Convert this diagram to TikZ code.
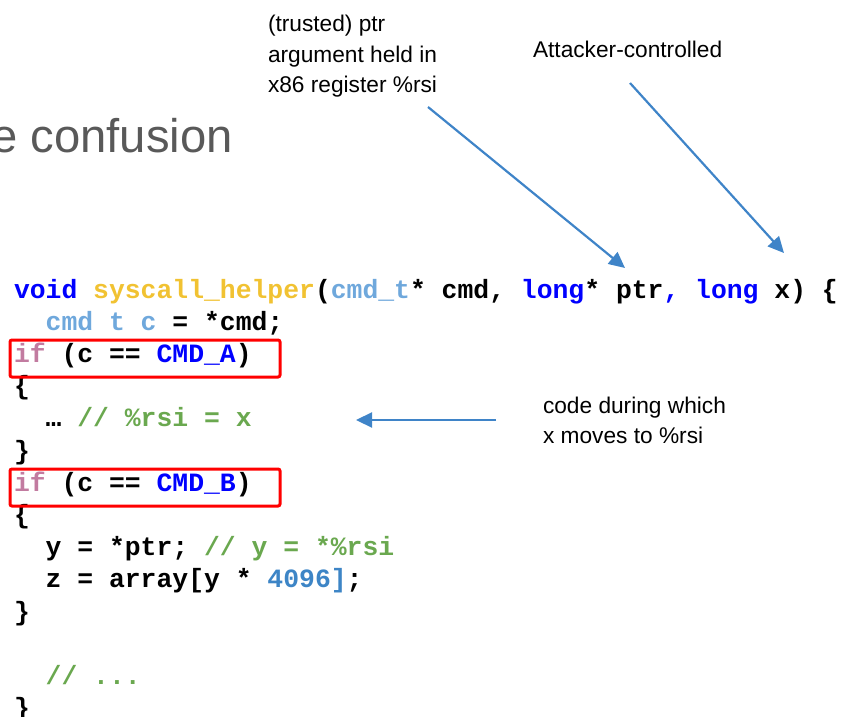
\documentclass[tikz,border=0pt]{standalone}
\usepackage{fontspec}
\setmainfont{Liberation Sans}
\setmonofont{Liberation Mono}
\usetikzlibrary{arrows.meta}

\definecolor{kwblue}{HTML}{0000FF}
\definecolor{fngold}{HTML}{F1C232}
\definecolor{tyblue}{HTML}{6FA8DC}
\definecolor{ifmauve}{HTML}{C27BA0}
\definecolor{cmgreen}{HTML}{6AA84F}
\definecolor{numblue}{HTML}{3D85C6}
\definecolor{arrowblue}{HTML}{3F84C8}
\definecolor{titlegray}{HTML}{595959}
\definecolor{boxred}{HTML}{FF0000}

\newcommand{\kw}[1]{\textcolor{kwblue}{#1}}
\newcommand{\fn}[1]{\textcolor{fngold}{#1}}
\newcommand{\ty}[1]{\textcolor{tyblue}{#1}}
\newcommand{\ifk}[1]{\textcolor{ifmauve}{#1}}
\newcommand{\cm}[1]{\textcolor{cmgreen}{#1}}
\newcommand{\num}[1]{\textcolor{numblue}{#1}}

\begin{document}
\begin{tikzpicture}[x=1pt,y=-1pt,
  codeline/.style={anchor=base west, inner sep=0pt, outer sep=0pt,
    font=\fontsize{26.4}{32}\selectfont\ttfamily\bfseries},
  note/.style={anchor=base west, inner sep=0pt, outer sep=0pt,
    font=\fontsize{22.7}{30.5}\selectfont},
  redbox/.style={draw=boxred, line width=3pt, rounded corners=2pt,
    anchor=north west, minimum width=270pt, minimum height=37pt, inner sep=0pt},
  callout/.style={draw=arrowblue, line width=2.2pt,
    -{Triangle[length=16pt,width=15pt]}}]
  \useasboundingbox (0,0) rectangle (847,717);

  % heading, cut off at the left edge
  \node[anchor=base east, inner sep=0pt, text=titlegray,
    font=\fontsize{47.2}{56}\selectfont] (title) at (233,153) {e confusion};

  % source listing
  \def\lx{14}
  \def\ix{45.7}
  \node[codeline] (l0) at (\lx,298) {\kw{void} \fn{syscall\_helper}(\ty{cmd\_t}* cmd, \kw{long}* ptr\kw{,} \kw{long} x) \{};
  \node[codeline] (l1) at (\ix,330.2) {\ty{cmd t c} = *cmd;};
  \node[codeline] (l2) at (\lx,362.4) {\ifk{if} (c == \kw{CMD\_A})};
  \node[codeline] (l3) at (\lx,394.6) {\{};
  \node[codeline] (l4) at (\ix,426.8) {… \cm{// \%rsi = x}};
  \node[codeline] (l5) at (\lx,459) {\}};
  \node[codeline] (l6) at (\lx,491.2) {\ifk{if} (c == \kw{CMD\_B})};
  \node[codeline] (l7) at (\lx,523.4) {\{};
  \node[codeline] (l8) at (\ix,555.6) {y = *ptr; \cm{// y = *\%rsi}};
  \node[codeline] (l9) at (\ix,587.8) {z = array[y * \num{4096]};};
  \node[codeline] (l10) at (\lx,620) {\}};
  \node[codeline] (l12) at (\ix,684.4) {\cm{// ...}};
  \node[codeline] (l13) at (\lx,716.6) {\}};

  % highlighted conditions
  \node[redbox] (boxA) at (8.5,338.5) {};
  \node[redbox] (boxB) at (8.5,467.5) {};

  % annotations
  \node[note] (ptrnote) at (268,32) {\vtop{\baselineskip=30.5pt
    \hbox{(trusted) ptr}\hbox{argument held in}\hbox{x86 register \%rsi}}};
  \node[note] (attnote) at (533,58) {Attacker-controlled};
  \node[note] (movenote) at (543,413) {\vtop{\baselineskip=30pt
    \hbox{code during which}\hbox{x moves to \%rsi}}};

  % arrow ends
  \coordinate (ptrfrom) at (428,107);
  \coordinate (ptrto) at (625,268);
  \coordinate (attfrom) at (630,83);
  \coordinate (attto) at (784,253);
  \coordinate (movefrom) at (496,420);
  \coordinate (moveto) at (356,420);

  \draw[callout] (ptrfrom) -- (ptrto);
  \draw[callout] (attfrom) -- (attto);
  \draw[callout] (movefrom) -- (moveto);
\end{tikzpicture}
\end{document}
